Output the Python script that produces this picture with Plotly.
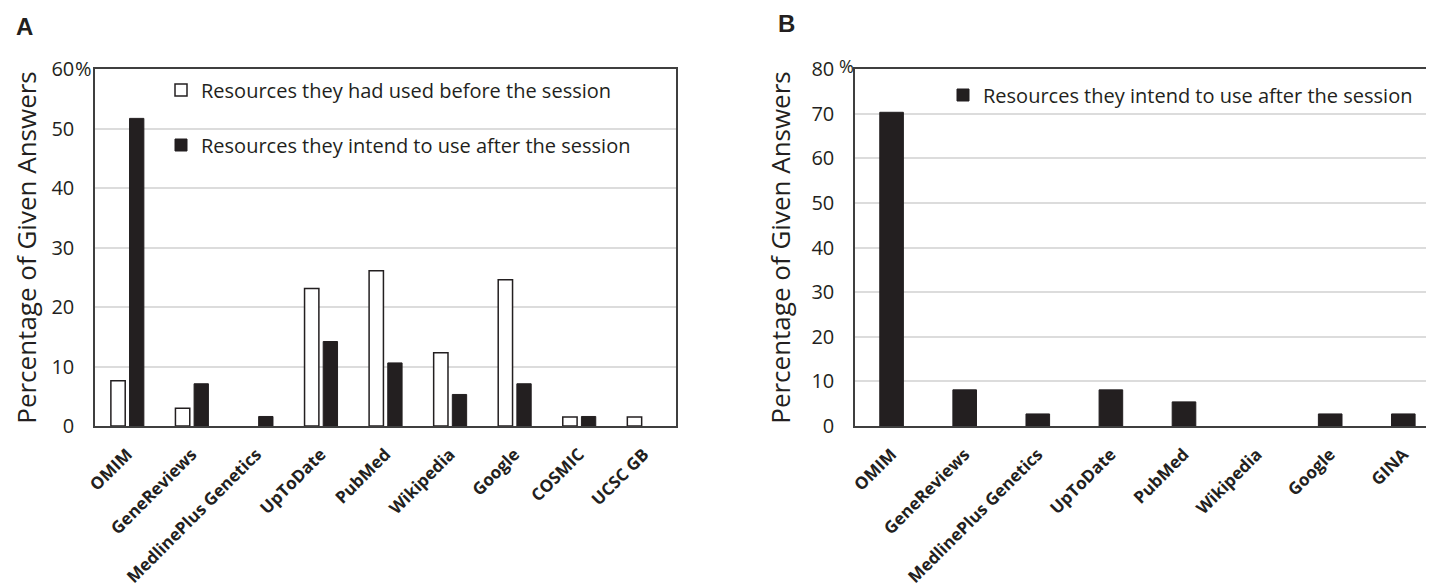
import plotly.graph_objects as go

# ---- data ----
cats_a = ["OMIM", "GeneReviews", "MedlinePlus Genetics", "UpToDate", "PubMed",
          "Wikipedia", "Google", "COSMIC", "UCSC GB"]
before_a = [7.6, 3.0, 0.0, 23.1, 26.1, 12.3, 24.6, 1.5, 1.5]
after_a = [51.7, 7.1, 1.6, 14.2, 10.6, 5.3, 7.1, 1.6, 0.0]

cats_b = ["OMIM", "GeneReviews", "MedlinePlus Genetics", "UpToDate", "PubMed",
          "Wikipedia", "Google", "GINA"]
after_b = [70.3, 8.1, 2.7, 8.1, 5.4, 0.0, 2.7, 2.7]

yticks_a = [0, 10, 20, 30, 40, 50, 60]
yticks_b = [0, 10, 20, 30, 40, 50, 60, 70, 80]

name_before = "Resources they had used before the session"
name_after = "Resources they intend to use after the session"

DARK = "#231f20"
FRAME = "#3f3f3f"
GRID = "#dcdcdc"
FONT = "Open Sans"

W = 1434.0
H = 587.0
OFF = 8  # page body margin


def px(x):
    return (x - OFF) / W


def py(y):
    return (H - (y - OFF)) / H


def lw(vals, w):
    return [w if v > 0 else 0 for v in vals]


fig = go.Figure()

fig.add_trace(go.Bar(
    x=cats_a, y=before_a, name=name_before, xaxis="x", yaxis="y",
    marker=dict(color="white", line=dict(color=DARK, width=lw(before_a, 1.5))),
    width=0.222, offset=-0.254, legend="legend", showlegend=True, hoverinfo="x+y"))
fig.add_trace(go.Bar(
    x=cats_a, y=after_a, name=name_after, xaxis="x", yaxis="y",
    marker=dict(color=DARK, line=dict(color=DARK, width=lw(after_a, 1))),
    width=0.222, offset=0.035, legend="legend2", showlegend=True, hoverinfo="x+y"))
fig.add_trace(go.Bar(
    x=cats_b, y=after_b, name=name_after, xaxis="x2", yaxis="y2",
    marker=dict(color=DARK, line=dict(color=DARK, width=lw(after_b, 1))),
    width=0.323, offset=-0.161, legend="legend3", showlegend=True, hoverinfo="x+y"))

ybot = py(426)
ytop = py(69)

common_x = dict(
    type="category", showgrid=False, showline=True, linecolor=FRAME, linewidth=1.5,
    mirror=True, ticks="", tickangle=-45, automargin=False,
    tickfont=dict(family=FONT, size=17, color="#231f20", weight="bold"),
    ticklabelstandoff=10, zeroline=False)

common_y = dict(
    showgrid=True, gridcolor=GRID, gridwidth=1.5,
    showline=True, linecolor=FRAME, linewidth=1.5, ticks="",
    ticklabelstandoff=15, zeroline=False, automargin=False,
    tickfont=dict(family=FONT, size=20, color="#231f20"))

legfont = dict(family=FONT, size=20, color="#231f20")

fig.update_layout(
    width=1434, height=587,
    margin=dict(l=0, r=0, t=0, b=0),
    paper_bgcolor="white", plot_bgcolor="white",
    barmode="overlay",
    showlegend=True,
    font=dict(family=FONT, color="#231f20"),
    xaxis=dict(common_x, domain=[px(95), px(676)], anchor="y", range=[-0.5, 8.5]),
    xaxis2=dict(common_x, domain=[px(855), 1.0], anchor="y2", range=[-0.5, 7.53]),
    yaxis=dict(
        common_y, domain=[ybot, ytop], anchor="x", range=[0, 60], tickvals=yticks_a,
        ticktext=[str(v) for v in yticks_a], mirror=True,
        title=dict(text="Percentage of Given Answers", standoff=27,
                   font=dict(family=FONT, size=26, color="#231f20"))),
    yaxis2=dict(
        common_y, domain=[ybot, ytop], anchor="x2", range=[0, 80], tickvals=yticks_b,
        ticktext=[str(v) for v in yticks_b], mirror=False,
        title=dict(text="Percentage of Given Answers", standoff=13,
                   font=dict(family=FONT, size=26, color="#231f20"))),
    legend=dict(x=px(161), xanchor="left", y=py(90), yanchor="middle",
                bgcolor="rgba(0,0,0,0)", font=legfont),
    legend2=dict(x=px(161), xanchor="left", y=py(145), yanchor="middle",
                 bgcolor="rgba(0,0,0,0)", font=legfont),
    legend3=dict(x=px(943), xanchor="left", y=py(95), yanchor="middle",
                 bgcolor="rgba(0,0,0,0)", font=legfont),
    annotations=[
        dict(text="<b>A</b>", xref="paper", yref="paper", x=px(14), y=py(26),
             xanchor="left", yanchor="middle", showarrow=False,
             font=dict(family="Liberation Sans", size=24, color="#231f20")),
        dict(text="<b>B</b>", xref="paper", yref="paper", x=px(776), y=py(23),
             xanchor="left", yanchor="middle", showarrow=False,
             font=dict(family="Liberation Sans", size=24, color="#231f20")),
        dict(text="%", xref="paper", yref="y", x=px(73), y=60,
             xanchor="left", yanchor="middle", showarrow=False,
             font=dict(family=FONT, size=20, color="#231f20")),
        dict(text="%", xref="paper", yref="y2", x=px(837), y=80,
             xanchor="left", yanchor="middle", yshift=3, showarrow=False,
             font=dict(family=FONT, size=18, color="#231f20")),
    ],
)

fig.write_html("out.html")
